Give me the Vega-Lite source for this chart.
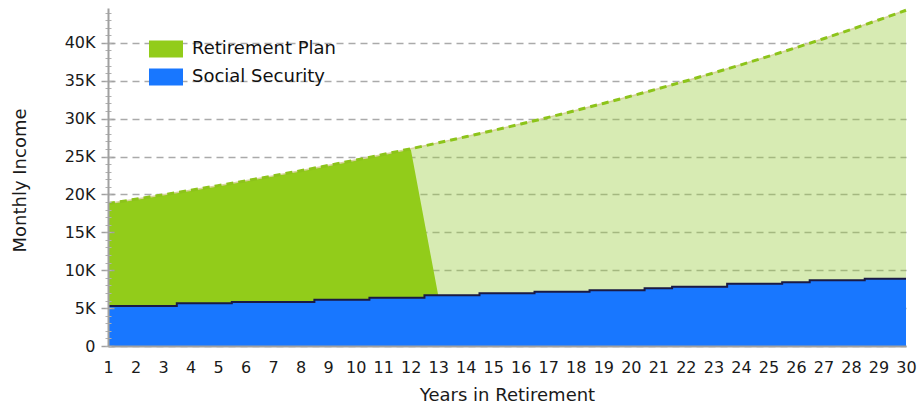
{
  "$schema": "https://vega.github.io/schema/vega-lite/v6.json",
  "width": 798,
  "height": 338,
  "autosize": {"type": "none"},
  "padding": {"left": 108, "top": 8, "right": 11, "bottom": 61},
  "config": {"font": "DejaVu Sans", "view": {"stroke": null}, "axisX": {"labelOverlap": false, "labelFlush": false}},
  "data": {
    "values": [
      {"year": 1, "total": 18800, "ss": 5280, "plan": 18800},
      {"year": 2, "total": 19364, "ss": 5280, "plan": 19364},
      {"year": 3, "total": 19945, "ss": 5280, "plan": 19945},
      {"year": 4, "total": 20543, "ss": 5640, "plan": 20543},
      {"year": 5, "total": 21160, "ss": 5640, "plan": 21160},
      {"year": 6, "total": 21794, "ss": 5810, "plan": 21794},
      {"year": 7, "total": 22448, "ss": 5810, "plan": 22448},
      {"year": 8, "total": 23122, "ss": 5810, "plan": 23122},
      {"year": 9, "total": 23815, "ss": 6110, "plan": 23815},
      {"year": 10, "total": 24530, "ss": 6110, "plan": 24530},
      {"year": 11, "total": 25266, "ss": 6380, "plan": 25266},
      {"year": 12, "total": 26024, "ss": 6380, "plan": 26024},
      {"year": 13, "total": 26804, "ss": 6690, "plan": 6690},
      {"year": 14, "total": 27608, "ss": 6690, "plan": null},
      {"year": 15, "total": 28437, "ss": 6960, "plan": null},
      {"year": 16, "total": 29290, "ss": 6960, "plan": null},
      {"year": 17, "total": 30168, "ss": 7170, "plan": null},
      {"year": 18, "total": 31073, "ss": 7170, "plan": null},
      {"year": 19, "total": 32006, "ss": 7350, "plan": null},
      {"year": 20, "total": 32966, "ss": 7350, "plan": null},
      {"year": 21, "total": 33955, "ss": 7620, "plan": null},
      {"year": 22, "total": 34973, "ss": 7830, "plan": null},
      {"year": 23, "total": 36022, "ss": 7830, "plan": null},
      {"year": 24, "total": 37103, "ss": 8220, "plan": null},
      {"year": 25, "total": 38216, "ss": 8220, "plan": null},
      {"year": 26, "total": 39363, "ss": 8410, "plan": null},
      {"year": 27, "total": 40544, "ss": 8670, "plan": null},
      {"year": 28, "total": 41760, "ss": 8670, "plan": null},
      {"year": 29, "total": 43013, "ss": 8880, "plan": null},
      {"year": 30, "total": 44303, "ss": 8880, "plan": null}
    ]
  },
  "resolve": {"axis": {"y": "independent", "x": "independent"}},
  "layer": [
    {
      "mark": {"type": "area", "color": "#9ccc40", "opacity": 0.4},
      "encoding": {
        "x": {
          "field": "year", "type": "quantitative",
          "scale": {"domain": [1, 30], "nice": false, "zero": false},
          "axis": {
            "values": [1,2,3,4,5,6,7,8,9,10,11,12,13,14,15,16,17,18,19,20,21,22,23,24,25,26,27,28,29,30],
            "labelFontSize": 16, "labelColor": "#1a1a1a", "labelPadding": 13,
            "labelOverlap": false, "labelFlush": false, "labelBound": false,
            "ticks": false, "tickSize": 0, "grid": false,
            "domain": true, "domainColor": "#a0a0a0", "domainWidth": 2,
            "title": "Years in Retirement", "titleFontSize": 18, "titleFontWeight": "normal",
            "titleColor": "#1a1a1a", "titleY": 40, "titleBaseline": "top",
            "zindex": 1
          }
        },
        "y": {
          "field": "total", "type": "quantitative",
          "scale": {"domain": [0, 44600], "nice": false},
          "axis": {
            "orient": "left",
            "values": [0, 5000, 10000, 15000, 20000, 25000, 30000, 35000, 40000],
            "labelExpr": "datum.value == 0 ? '0' : (datum.value / 1000) + 'K'",
            "labelFontSize": 16, "labelColor": "#1a1a1a", "labelPadding": 13,
            "ticks": false, "tickSize": 0, "domain": false,
            "grid": true, "gridColor": "#aaaaaa", "gridDash": [7, 5], "gridWidth": 1.5,
            "title": "Monthly Income", "titleFontSize": 18, "titleFontWeight": "normal",
            "titleColor": "#1a1a1a", "titleX": -83, "titleY": 172, "titleBaseline": "alphabetic",
            "zindex": 0
          }
        }
      }
    },
    {
      "transform": [{"filter": "datum.plan != null"}],
      "mark": {"type": "area", "opacity": 1},
      "encoding": {
        "x": {"field": "year", "type": "quantitative", "scale": {"domain": [1, 30], "nice": false, "zero": false}, "axis": null},
        "y": {
          "field": "plan", "type": "quantitative",
          "scale": {"domain": [0, 44600], "nice": false},
          "axis": {
            "orient": "left",
            "values": [0, 5000, 10000, 15000, 20000, 25000, 30000, 35000, 40000],
            "labels": false, "ticks": true, "tickSize": 13, "tickColor": "#a0a0a0", "tickWidth": 1.5,
            "offset": -6, "domain": false, "grid": false, "title": null, "zindex": 1
          }
        },
        "color": {
          "datum": "Retirement Plan",
          "scale": {"domain": ["Retirement Plan", "Social Security"], "range": ["#92cc1a", "#1877ff"]},
          "legend": {
            "orient": "none", "legendX": 49, "legendY": 32, "padding": 0,
            "title": null, "direction": "vertical",
            "symbolType": "M-1.889,-0.944H1.889V0.944H-1.889Z", "symbolSize": 324,
            "symbolStrokeWidth": 0, "symbolOpacity": 1,
            "rowPadding": 10, "labelOffset": 17,
            "labelFontSize": 18, "labelColor": "#111111", "labelFont": "DejaVu Sans"
          }
        }
      }
    },
    {
      "mark": {"type": "area", "interpolate": "step", "opacity": 1},
      "encoding": {
        "x": {"field": "year", "type": "quantitative", "scale": {"domain": [1, 30], "nice": false, "zero": false}, "axis": null},
        "y": {
          "field": "ss", "type": "quantitative",
          "scale": {"domain": [0, 44600], "nice": false},
          "axis": {
            "orient": "left",
            "values": [0,1000,2000,3000,4000,5000,6000,7000,8000,9000,10000,11000,12000,13000,14000,15000,16000,17000,18000,19000,20000,21000,22000,23000,24000,25000,26000,27000,28000,29000,30000,31000,32000,33000,34000,35000,36000,37000,38000,39000,40000,41000,42000,43000,44000],
            "labels": false, "ticks": true, "tickSize": 6, "tickColor": "#b0b0b0", "tickWidth": 1,
            "offset": -3, "domain": false, "grid": false, "title": null, "zindex": 1
          }
        },
        "color": {"datum": "Social Security"}
      }
    },
    {
      "mark": {"type": "line", "interpolate": "step", "color": "#1a1a44", "strokeWidth": 2},
      "encoding": {
        "x": {"field": "year", "type": "quantitative", "scale": {"domain": [1, 30], "nice": false, "zero": false}, "axis": null},
        "y": {
          "field": "ss", "type": "quantitative",
          "scale": {"domain": [0, 44600], "nice": false},
          "axis": {
            "orient": "left", "labels": false, "ticks": false, "grid": false,
            "domain": true, "domainColor": "#a0a0a0", "domainWidth": 2, "title": null, "zindex": 1
          }
        }
      }
    },
    {
      "mark": {"type": "line", "color": "#d8d2a0", "strokeWidth": 1.5},
      "encoding": {
        "x": {"field": "year", "type": "quantitative", "scale": {"domain": [1, 30], "nice": false, "zero": false}, "axis": null},
        "y": {"field": "total", "type": "quantitative", "scale": {"domain": [0, 44600], "nice": false}, "axis": null}
      }
    },
    {
      "mark": {"type": "line", "color": "#8cc41a", "strokeWidth": 3, "strokeDash": [7, 5]},
      "encoding": {
        "x": {"field": "year", "type": "quantitative", "scale": {"domain": [1, 30], "nice": false, "zero": false}, "axis": null},
        "y": {"field": "total", "type": "quantitative", "scale": {"domain": [0, 44600], "nice": false}, "axis": null}
      }
    }
  ]
}
